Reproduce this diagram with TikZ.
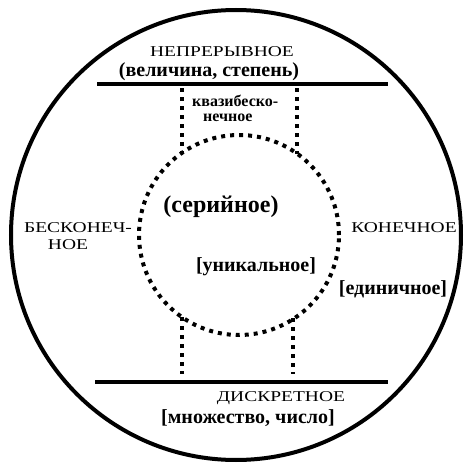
\documentclass[tikz,border=0pt]{standalone}
\usepackage{fontspec}
\setmainfont{Liberation Serif}
\begin{document}
\begin{tikzpicture}[x=1pt,y=-1pt,
  caps/.style={inner sep=0pt,font=\fontsize{15}{16}\selectfont},
  lbl/.style={inner sep=0pt,font=\fontsize{20}{21}\bfseries},
  small/.style={inner sep=0pt,font=\fontsize{16}{17}\bfseries},
  solid line/.style={line width=4.5pt},
  dots/.style={line width=4pt,dash pattern=on 4pt off 5pt}]
\useasboundingbox (0,0) rectangle (472,463);
\node[circle,draw,line width=4pt,minimum size=450pt,inner sep=0pt] (outer) at (236,235) {};
\node[circle,draw,dots,minimum size=200pt,inner sep=0pt] (inner) at (239,235) {};
% solid lines
\coordinate (tl) at (97,84); \coordinate (tr) at (388,84);
\coordinate (bl) at (95,382); \coordinate (br) at (388,382);
\draw[solid line] (tl) -- (tr);
\draw[solid line] (bl) -- (br);
% dotted verticals
\coordinate (a1) at (182,88); \coordinate (a2) at (182,153);
\coordinate (b1) at (297,88); \coordinate (b2) at (297,154);
\coordinate (c1) at (182,317); \coordinate (c2) at (182,374);
\coordinate (d1) at (293,318); \coordinate (d2) at (293,374);
\draw[dots] (a1) -- (a2);
\draw[dots] (b1) -- (b2);
\draw[dots] (c1) -- (c2);
\draw[dots] (d1) -- (d2);
% texts
\node[caps] (t1) at (222,52) {\scalebox{1.3}[1]{НЕПРЕРЫВНОЕ}};
\node[lbl] (t2) at (209,72) {(величина, степень)};
\node[small,anchor=west] (q1) at (192,101) {квазибеско-};
\node[small,anchor=west] (q2) at (203,118) {нечное};
\node[inner sep=0pt,font=\fontsize{24}{25}\bfseries] (s) at (221,207) {(серийное)};
\node[caps] (l1) at (78,228) {\scalebox{1.3}[1]{БЕСКОНЕЧ-}};
\node[caps] (l2) at (68,245) {\scalebox{1.3}[1]{НОЕ}};
\node[caps] (r1) at (404,228) {\scalebox{1.3}[1]{КОНЕЧНОЕ}};
\node[lbl] (u) at (256,267) {[уникальное]};
\node[lbl] (e) at (393,289) {[единичное]};
\node[caps] (d) at (281,398) {\scalebox{1.3}[1]{ДИСКРЕТНОЕ}};
\node[lbl] (m) at (248,418) {[множество, число]};
\end{tikzpicture}
\end{document}
